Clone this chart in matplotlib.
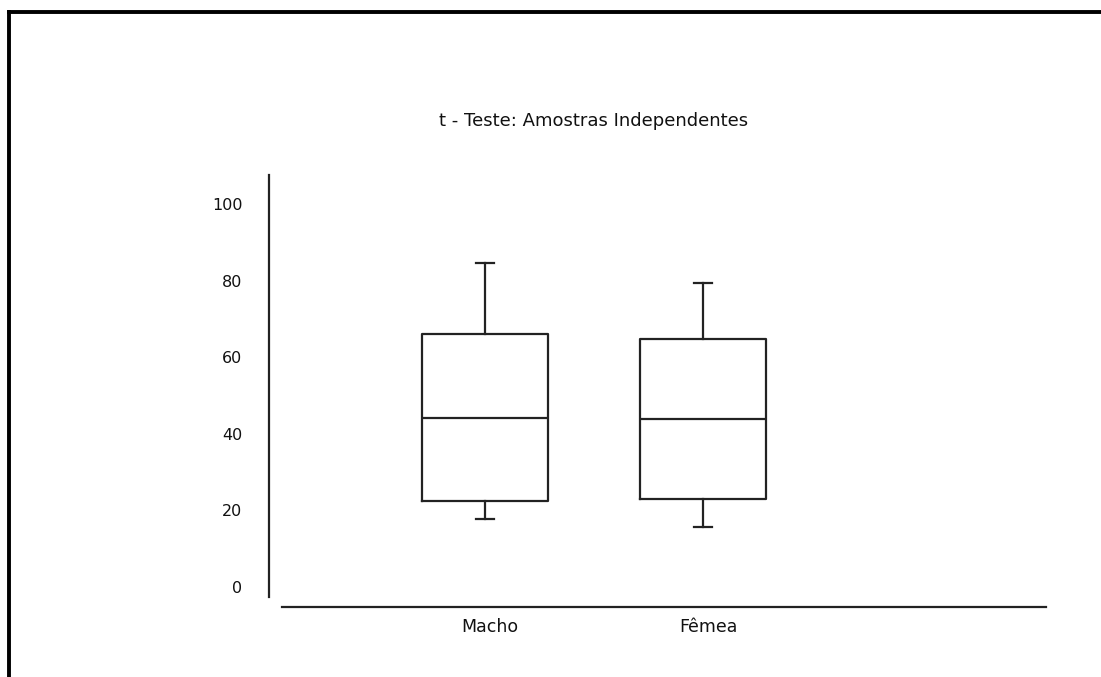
import matplotlib
matplotlib.use("Agg")
import matplotlib.pyplot as plt
import matplotlib.transforms as mtransforms
from matplotlib.lines import Line2D

# values
groups = ["Macho", "Fêmea"]
whisker_low = [17.7, 15.7]
q1 = [22.5, 23.0]
median = [44.2, 43.8]
q3 = [66.0, 64.8]
whisker_high = [84.7, 79.5]
y_ticks = [0, 20, 40, 60, 80, 100]
title = "t - Teste: Amostras Independentes"

plt.rcParams['font.family'] = ['DejaVu Sans']
line_col = '#222222'

fig = plt.figure(figsize=(11.01, 6.77), dpi=100)
# axes box in pixels: x 282..1046, y 175..597 (from top)
W, H = 1101, 677
ax = fig.add_axes([282 / W, 1 - 597 / H, (1046 - 282) / W, (597 - 175) / H])

stats = []
for i, g in enumerate(groups):
    stats.append({
        'label': g,
        'whislo': whisker_low[i],
        'q1': q1[i],
        'med': median[i],
        'q3': q3[i],
        'whishi': whisker_high[i],
        'fliers': [],
    })

lw = 1.6
ax.bxp(stats, positions=[1, 2], widths=0.575, showfliers=False,
       boxprops=dict(color=line_col, linewidth=lw),
       medianprops=dict(color=line_col, linewidth=lw),
       whiskerprops=dict(color=line_col, linewidth=lw),
       capprops=dict(color=line_col, linewidth=lw),
       capwidths=0.085)

ax.set_xlim(0.069, 3.573)
ax.set_ylim(-2.6, 107.6)
ax.set_yticks(y_ticks)
ax.set_yticklabels([str(v) for v in y_ticks])

for s in ['top', 'right']:
    ax.spines[s].set_visible(False)
ax.spines['left'].set_position(('outward', 13 * 72 / 100))
ax.spines['bottom'].set_position(('outward', 10 * 72 / 100))
for s in ['left', 'bottom']:
    ax.spines[s].set_color(line_col)
    ax.spines[s].set_linewidth(1.6)

ax.tick_params(axis='y', length=0, pad=19, labelsize=11.5, colors='#111111')
ax.tick_params(axis='x', length=0, pad=8, labelsize=12.5, colors='#111111')

# category labels sit a few pixels right of the box centres in the reference
shift = mtransforms.ScaledTranslation(5 / 100, 0, fig.dpi_scale_trans)
for lbl in ax.get_xticklabels():
    lbl.set_transform(lbl.get_transform() + shift)

fig.text(594 / W, 1 - 121 / H, title, ha='center', va='center',
         fontsize=13, color='#111111')

# frame lines at the top and left edge of the picture
fig.add_artist(Line2D([9 / W, 1.0], [1 - 12 / H, 1 - 12 / H],
                      transform=fig.transFigure, color='black', linewidth=2.8,
                      solid_capstyle='projecting'))
fig.add_artist(Line2D([9 / W, 9 / W], [0.0, 1 - 12 / H],
                      transform=fig.transFigure, color='black', linewidth=2.8,
                      solid_capstyle='projecting'))

fig.savefig("out.png", dpi=100, facecolor='white')
